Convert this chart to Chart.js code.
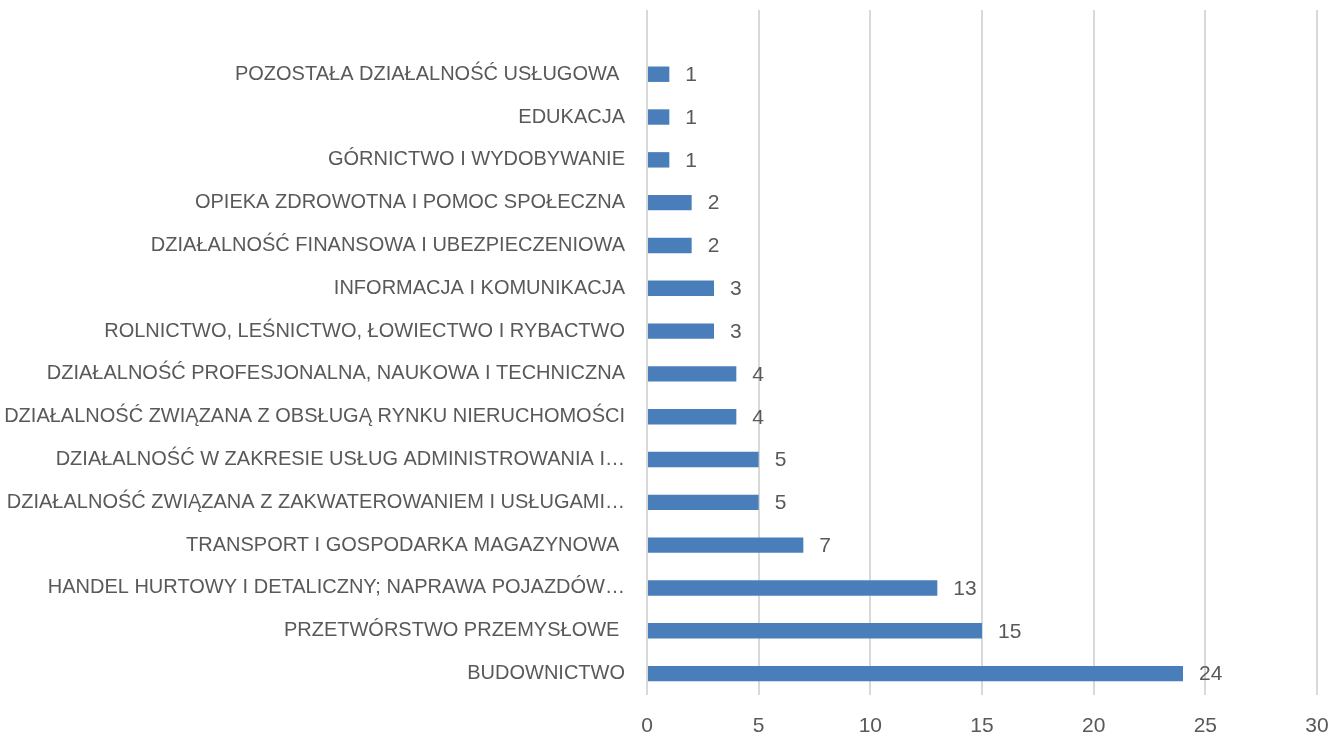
<!DOCTYPE html>
<html>
<head>
<meta charset="utf-8">
<script src="https://cdn.jsdelivr.net/npm/chart.js@4/dist/chart.umd.min.js"></script>
<style>
html,body{margin:0;padding:0;background:#fff;}
#wrap{width:1341px;height:738px;}
</style>
</head>
<body>
<div id="wrap"><canvas id="c" width="1341" height="738"></canvas></div>
<script>
const categories = [
  'POZOSTAŁA DZIAŁALNOŚĆ USŁUGOWA ',
  'EDUKACJA',
  'GÓRNICTWO I WYDOBYWANIE',
  'OPIEKA ZDROWOTNA I POMOC SPOŁECZNA',
  'DZIAŁALNOŚĆ FINANSOWA I UBEZPIECZENIOWA',
  'INFORMACJA I KOMUNIKACJA',
  'ROLNICTWO, LEŚNICTWO, ŁOWIECTWO I RYBACTWO',
  'DZIAŁALNOŚĆ PROFESJONALNA, NAUKOWA I TECHNICZNA',
  'DZIAŁALNOŚĆ ZWIĄZANA Z OBSŁUGĄ RYNKU NIERUCHOMOŚCI',
  'DZIAŁALNOŚĆ W ZAKRESIE USŁUG ADMINISTROWANIA I…',
  'DZIAŁALNOŚĆ ZWIĄZANA Z ZAKWATEROWANIEM I USŁUGAMI…',
  'TRANSPORT I GOSPODARKA MAGAZYNOWA ',
  'HANDEL HURTOWY I DETALICZNY; NAPRAWA POJAZDÓW…',
  'PRZETWÓRSTWO PRZEMYSŁOWE ',
  'BUDOWNICTWO'
];
const values = [1, 1, 1, 2, 2, 3, 3, 4, 4, 5, 5, 7, 13, 15, 24];
const xTicks = [0, 5, 10, 15, 20, 25, 30];

const FONT_FAMILY = '"Liberation Sans", Arial, sans-serif';
const FONT_SIZE = 20;
const VALUE_FONT_SIZE = 21;
const TEXT_COLOR = '#595959';

// Excel leaves an empty slot above the first category
const chartLabels = [''].concat(categories);
const chartValues = [null].concat(values);

const valueLabels = {
  id: 'valueLabels',
  afterDatasetsDraw(chart) {
    const ctx = chart.ctx;
    ctx.save();
    ctx.font = VALUE_FONT_SIZE + 'px ' + FONT_FAMILY;
    ctx.fillStyle = TEXT_COLOR;
    ctx.textAlign = 'left';
    ctx.textBaseline = 'middle';
    const meta = chart.getDatasetMeta(0);
    meta.data.forEach((el, i) => {
      const v = chart.data.datasets[0].data[i];
      if (v === null || v === undefined) return;
      ctx.fillText(String(v), el.x + 16, el.y + 1);
    });
    ctx.restore();
  }
};

new Chart(document.getElementById('c'), {
  type: 'bar',
  data: {
    labels: chartLabels,
    datasets: [{
      data: chartValues,
      backgroundColor: '#4a7ebb',
      borderWidth: 0,
      barPercentage: 0.36,
      categoryPercentage: 1.0
    }]
  },
  options: {
    indexAxis: 'y',
    responsive: false,
    animation: false,
    devicePixelRatio: 1,
    layout: { padding: { top: 10, right: 24, bottom: 0, left: 0 } },
    plugins: {
      legend: { display: false },
      tooltip: { enabled: false },
      title: { display: false }
    },
    scales: {
      x: {
        min: 0,
        max: 30,
        afterBuildTicks(scale) { scale.ticks = xTicks.map(v => ({ value: v })); },
        afterFit(scale) {
          scale.height = 43;
          scale.paddingLeft = 0; scale.paddingRight = 0;
        },
        grid: { color: '#d9d9d9', lineWidth: 2, drawTicks: false },
        border: { display: false },
        ticks: {
          color: TEXT_COLOR,
          font: { family: FONT_FAMILY, size: VALUE_FONT_SIZE },
          padding: 19
        }
      },
      y: {
        afterFit(scale) {
          scale.width = 647;
          scale.paddingTop = 0; scale.paddingBottom = 0;
        },
        grid: { display: false, drawTicks: false },
        border: { display: false },
        ticks: {
          color: TEXT_COLOR,
          font: { family: FONT_FAMILY, size: FONT_SIZE },
          padding: 22,
          autoSkip: false
        }
      }
    }
  },
  plugins: [valueLabels]
});
</script>
</body>
</html>
